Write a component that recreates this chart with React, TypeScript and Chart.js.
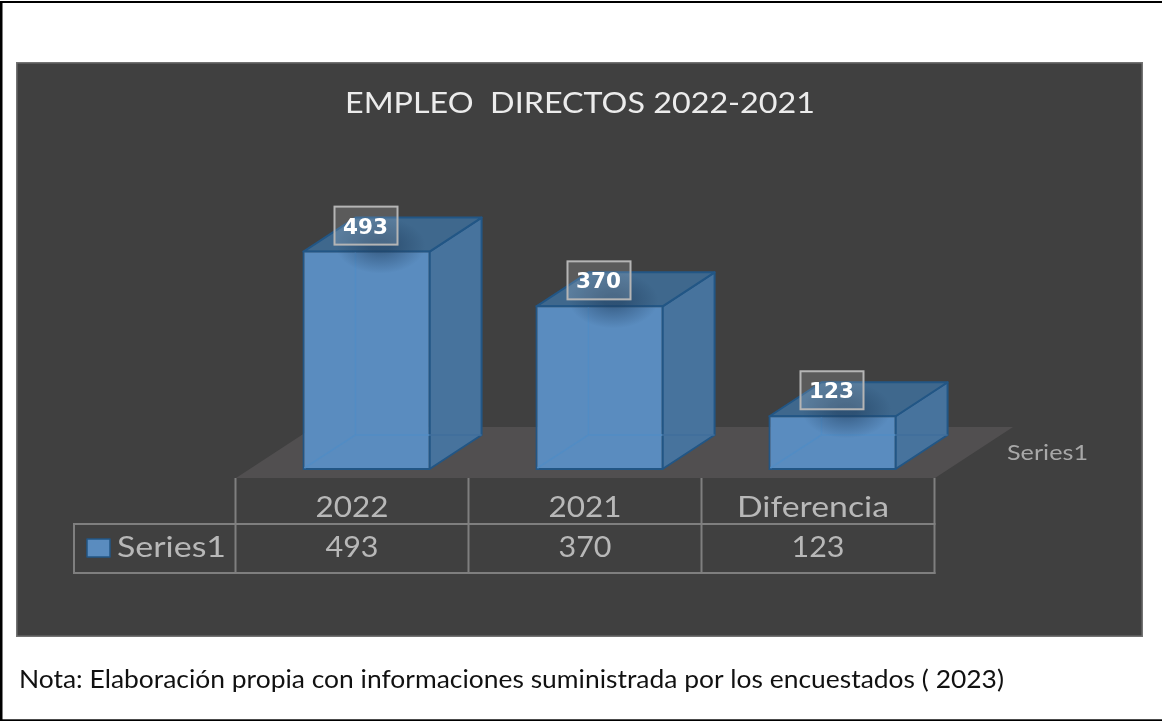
import React, { useEffect, useRef } from "react";
import { Chart, registerables } from "chart.js";

Chart.register(...registerables);

const chartTitle = "EMPLEO  DIRECTOS 2022-2021";
const noteText = "Nota: Elaboración propia con informaciones suministrada por los encuestados ( 2023)";
const seriesName = "Series1";
const categories = ["2022", "2021", "Diferencia"];
const series1 = [493, 370, 123];

const DEPTH_X = 52;
const DEPTH_Y = 34;
const TABLE_SHIFT = 14.5;
const categoryLabelNudge = [0, 0, -5];
const categoryLabelWidth = [73, 73, 152];

function fitText(ctx: CanvasRenderingContext2D, s: string, x: number, baseline: number, font: string, color: string, width: number, anchor: "left" | "center" = "left") {
  ctx.save();
  ctx.font = font;
  ctx.fillStyle = color;
  ctx.textBaseline = "alphabetic";
  ctx.textAlign = "left";
  const m = ctx.measureText(s).width;
  const sx = width / m;
  const left = anchor === "center" ? x - width / 2 : x;
  ctx.translate(left, baseline);
  ctx.scale(sx, 1);
  ctx.fillText(s, 0, 0);
  ctx.restore();
}

function poly(ctx: CanvasRenderingContext2D, pts: number[][], fill: string | null, stroke: string | null, lw = 2) {
  ctx.beginPath();
  pts.forEach((p, i) => (i ? ctx.lineTo(p[0], p[1]) : ctx.moveTo(p[0], p[1])));
  ctx.closePath();
  if (fill) {
    ctx.fillStyle = fill;
    ctx.fill();
  }
  if (stroke) {
    ctx.strokeStyle = stroke;
    ctx.lineWidth = lw;
    ctx.lineJoin = "round";
    ctx.stroke();
  }
}

function seg(ctx: CanvasRenderingContext2D, x1: number, y1: number, x2: number, y2: number, color: string, lw = 2) {
  ctx.beginPath();
  ctx.moveTo(x1, y1);
  ctx.lineTo(x2, y2);
  ctx.strokeStyle = color;
  ctx.lineWidth = lw;
  ctx.stroke();
}

function box(el: any) {
  return {
    l: el.x - el.width / 2 + 1,
    r: el.x + el.width / 2 - 1,
    t: el.y + 1,
    b: el.base - 1,
  };
}

const backdrop = {
  id: "backdrop",
  beforeDraw(chart: any) {
    const ctx: CanvasRenderingContext2D = chart.ctx;
    ctx.save();
    ctx.fillStyle = "#ffffff";
    ctx.fillRect(0, 0, 1162, 721);
    ctx.fillStyle = "#000000";
    ctx.fillRect(0, 1, 1162, 2);
    ctx.fillRect(0, 1, 2.5, 720);
    ctx.fillRect(0, 719.3, 1162, 1.7);
    ctx.fillStyle = "#404040";
    ctx.fillRect(16, 62, 1127, 575);
    ctx.strokeStyle = "#737373";
    ctx.lineWidth = 1.5;
    ctx.strokeRect(16.75, 62.75, 1125.5, 573.5);
    poly(ctx, [[236, 478], [314, 427], [1013, 427], [935, 478]], "#514f50", null);
    fitText(ctx, chartTitle, 345, 113, "28px Lato", "#ececec", 470);
    fitText(ctx, seriesName, 1007, 460, "22px Lato", "#a8a8a8", 81);
    fitText(ctx, noteText, 19, 688, "25px Lato", "#111111", 985);
    ctx.restore();
  },
  beforeDatasetsDraw(chart: any) {
    const ctx: CanvasRenderingContext2D = chart.ctx;
    ctx.save();
    for (const el of chart.getDatasetMeta(0).data) {
      const { l, r, t, b } = box(el);
      poly(ctx, [[r, t], [r + DEPTH_X, t - DEPTH_Y], [r + DEPTH_X, b - DEPTH_Y], [r, b]], "#47739d", "#225685");
      poly(ctx, [[l, t], [l + DEPTH_X, t - DEPTH_Y], [r + DEPTH_X, t - DEPTH_Y], [r, t]], "#3f688d", "#225685");
    }
    ctx.restore();
  },
  afterDatasetsDraw(chart: any) {
    const ctx: CanvasRenderingContext2D = chart.ctx;
    const els = chart.getDatasetMeta(0).data;
    ctx.save();
    els.forEach((el: any, i: number) => {
      const { l, r, t, b } = box(el);
      const backB = b - DEPTH_Y;
      const inner = "#528cc4";
      if (t + 1 < backB) seg(ctx, l + DEPTH_X, t + 1, l + DEPTH_X, backB, inner, 1.5);
      seg(ctx, l + 1, b - 1, l + DEPTH_X, backB, inner, 1.5);
      seg(ctx, l + DEPTH_X, backB, r, backB, inner, 1.5);
      seg(ctx, r, backB, r + DEPTH_X, backB, "#3f6e9c", 1.5);

      // soft shadow cast by the value label
      ctx.save();
      ctx.beginPath();
      ctx.rect(l + 2, t - DEPTH_Y + 1, r - l + DEPTH_X - 4, DEPTH_Y + 22);
      ctx.clip();
      ctx.translate(el.x + 14, t - 6);
      ctx.scale(1.6, 1);
      const g = ctx.createRadialGradient(0, 0, 6, 0, 0, 28);
      g.addColorStop(0, "rgba(30,60,92,0.5)");
      g.addColorStop(1, "rgba(30,60,92,0)");
      ctx.fillStyle = g;
      ctx.fillRect(-60, -34, 120, 68);
      ctx.restore();

      // value label
      const bx = el.x - 32;
      const by = t - 45;
      ctx.fillStyle = "rgba(255,255,255,0.14)";
      ctx.fillRect(bx, by, 63, 38);
      ctx.strokeStyle = "#b5b5b5";
      ctx.lineWidth = 2;
      ctx.strokeRect(bx, by, 63, 38);
      fitText(ctx, String(series1[i]), el.x - 1, t - 18, "bold 21px 'DejaVu Sans'", "#ffffff", 45, "center");

      // data table text
      const cellX = el.x - TABLE_SHIFT;
      fitText(ctx, categories[i], cellX + categoryLabelNudge[i], 517, "29px Lato", "#b8b8b8", categoryLabelWidth[i], "center");
      fitText(ctx, String(series1[i]), cellX, 557, "29px Lato", "#b8b8b8", 53, "center");
    });

    // data table grid
    const colW = els[1].x - els[0].x;
    const x0 = els[0].x - TABLE_SHIFT - colW / 2;
    const grid = "#7f7f7f";
    for (let i = 0; i <= categories.length; i++) {
      seg(ctx, x0 + i * colW, 478, x0 + i * colW, 574, grid, 2);
    }
    const x3 = x0 + categories.length * colW;
    seg(ctx, 74, 524, x3 + 1, 524, grid, 2);
    seg(ctx, 74, 573, x3 + 1, 573, grid, 2);
    seg(ctx, 74, 523, 74, 574, grid, 2);
    poly(ctx, [[87, 539], [110, 539], [110, 557], [87, 557]], "#5a8cbf", "#225685", 1.5);
    fitText(ctx, seriesName, 117, 557, "29px Lato", "#b8b8b8", 109);
    ctx.restore();
  },
};

export default function App() {
  const ref = useRef<HTMLCanvasElement>(null);
  useEffect(() => {
    document.body.style.margin = "0";
    const chart = new Chart(ref.current!, {
      type: "bar",
      data: {
        labels: categories,
        datasets: [
          {
            label: seriesName,
            data: series1,
            backgroundColor: "#5a8cbf",
            borderColor: "#225685",
            borderWidth: 2,
            borderSkipped: false,
            barPercentage: 0.55,
            categoryPercentage: 1,
          },
        ],
      },
      options: {
        responsive: false,
        animation: false,
        layout: { padding: { left: 250, right: 213, top: 114, bottom: 251 } },
        plugins: { legend: { display: false }, tooltip: { enabled: false }, title: { display: false } },
        scales: {
          x: { display: false },
          y: { display: false, min: 0, max: 800 },
        },
      },
      plugins: [backdrop],
    } as any);
    return () => chart.destroy();
  }, []);
  return <canvas ref={ref} width={1162} height={721} style={{ display: "block" }} />;
}
